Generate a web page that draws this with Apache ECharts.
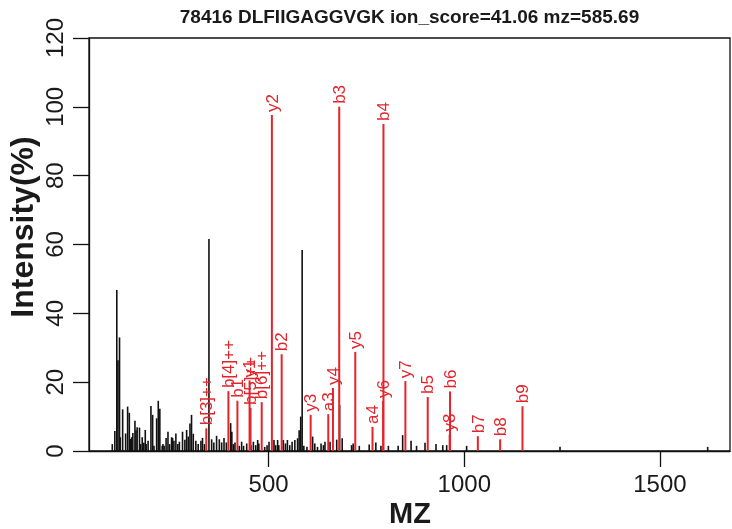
<!DOCTYPE html>
<html>
<head>
<meta charset="utf-8">
<script src="https://cdn.jsdelivr.net/npm/echarts@6/dist/echarts.min.js"></script>
<style>
html,body{margin:0;padding:0;background:#fff;}
#chart{width:732px;height:529px;}
</style>
</head>
<body>
<div id="chart"></div>
<script>
// ---- data ----
const titleText = '78416 DLFIIGAGGVGK ion_score=41.06 mz=585.69';
const xTicks = [500, 1000, 1500];
const yTicks = [0, 20, 40, 60, 80, 100, 120];

// unannotated peaks
const peakMz = [100.5,107,112,115,119,121,127,134.6,139.7,144,147,150,153,158.4,161,164,170,173,177,181,184.8,187,192,199.3,203.6,207,213.8,218,222,228,230,233,238,242.8,247,252,254.7,258,263,268,272,280,286,290.5,294.7,299,303,307.5,314,320,327,331,336,347.5,354.4,360,367,374,380,386,392,403,406,410,414,425,431,436,444,455,461,467,472,475,490,496,501,513.7,518,523,526,537.6,543,548,554,560,567,574,578,582,585.7,590,598,612.5,618,625,634,640,644,657,674,681.4,688,712,716,731.7,757,774,787,806,831,842.5,864,878,899.6,927.7,945,955,1006,1244.6,1622];
const peakInt = [2.0,5.8,46.8,26.4,33.0,4.0,12.1,5.1,12.9,11.1,3.5,4.0,5.2,8.8,6.0,6.9,6.8,2.0,4.0,2.4,6.1,2.0,3.0,13.1,10.5,1.5,9.5,14.6,12.3,1.5,2.0,1.5,3.8,5.6,2.0,4.0,3.8,3.0,5.1,2.0,2.7,5.6,3.3,6.1,4.2,8.0,10.5,5.0,3.0,2.0,3.0,3.8,2.0,61.6,3.4,2.5,4.4,3.4,2.5,3.8,2.5,8.1,5.6,2.0,2.5,1.5,2.7,1.5,2.2,1.7,2.7,1.7,3.2,2.2,1.2,1.7,2.7,3.2,1.7,3.2,1.7,3.2,2.2,3.2,1.7,2.7,3.2,3.7,6.0,10.0,58.4,1.5,1.2,4.2,2.2,1.2,2.2,1.7,2.7,2.7,3.3,13.4,3.7,1.7,2.2,1.5,1.9,2.5,1.5,1.5,1.5,4.6,3.0,1.5,2.4,2.0,1.7,1.7,1.5,1.2,1.2];

// annotated fragment ions
const ionLabel = ['b[3]++','b[4]++','b1','y1','b[5]++','b[6]++','y2','b2','y3','a3','y4','b3','y5','a4','y6','b4','y7','b5','y8','b6','b7','b8','b9'];
const ionMz = [340.70,397.24,420.24,451.32,453.78,482.29,508.34,533.32,607.41,652.40,664.43,680.39,721.45,765.48,792.49,793.48,849.51,906.56,962.59,963.58,1034.62,1091.64,1148.66];
const ionInt = [6.6,17.4,14.6,20.5,12.5,14.2,97.6,28.1,10.5,10.7,18.3,100,28.8,7.0,14.5,95,20.3,15.7,4.8,17.3,4.3,3.4,13.0];

// ---- chart ----
const RED = '#e3242b';
const FONT = '"Liberation Sans", Arial, Helvetica, sans-serif';
const chart = echarts.init(document.getElementById('chart'), null, {renderer: 'canvas'});

const peakData = peakMz.map((m, i) => [m, peakInt[i]]);
const ionData = ionMz.map((m, i) => [m, ionInt[i], ionLabel[i]]);

function stickRender(color, width, withLabel) {
  return function (params, api) {
    const x = api.value(0), y = api.value(1);
    const p0 = api.coord([x, 0]);
    const p1 = api.coord([x, y]);
    const children = [{
      type: 'line',
      shape: {x1: p0[0], y1: p0[1], x2: p1[0], y2: p1[1]},
      style: {stroke: color, lineWidth: width}
    }];
    if (withLabel) {
      children.push({
        type: 'text',
        x: p1[0] + 1,
        y: p1[1] - 3,
        rotation: Math.PI / 2,
        style: {
          text: ionData[params.dataIndex][2],
          fill: color,
          font: '17px ' + FONT,
          align: 'left',
          verticalAlign: 'middle'
        }
      });
    }
    return {type: 'group', children: children};
  };
}

const option = {
  animation: false,
  backgroundColor: '#fff',
  grid: {left: 89, right: 2, top: 38, bottom: 78, show: true, borderColor: '#111', borderWidth: 1.3, backgroundColor: 'transparent'},
  xAxis: {
    type: 'value', min: 41, max: 1679,
    axisLine: {show: true, onZero: false, lineStyle: {color: '#111', width: 1.3}},
    axisTick: {show: true, inside: false, length: 16, customValues: xTicks, lineStyle: {color: '#111', width: 1.3}},
    axisLabel: {customValues: xTicks, formatter: v => String(v), color: '#1a1a1a', fontSize: 24, fontFamily: FONT, margin: 22},
    splitLine: {show: false}
  },
  yAxis: {
    type: 'value', min: 0, max: 120, interval: 20,
    axisLine: {show: true, onZero: false, lineStyle: {color: '#111', width: 1.3}},
    axisTick: {show: true, inside: false, length: 16, lineStyle: {color: '#111', width: 1.3}},
    axisLabel: {rotate: 90, formatter: v => String(v), color: '#1a1a1a', fontSize: 24, fontFamily: FONT, margin: 21, showMinLabel: true, showMaxLabel: true},
    splitLine: {show: false}
  },
  graphic: [
    {type: 'text', x: 409.5, y: 18, style: {text: titleText, font: 'bold 19px ' + FONT, fill: '#1a1a1a', align: 'center', verticalAlign: 'middle'}},
    {type: 'text', x: 24, y: 227, rotation: Math.PI / 2, style: {text: 'Intensity(%)', font: 'bold 32px ' + FONT, fill: '#1a1a1a', align: 'center', verticalAlign: 'middle'}},
    {type: 'text', x: 410, y: 515, style: {text: 'MZ', font: 'bold 29px ' + FONT, fill: '#1a1a1a', align: 'center', verticalAlign: 'middle'}}
  ],
  series: [
    {type: 'custom', name: 'peaks', data: peakData, renderItem: stickRender('#111', 1.6, false), clip: false},
    {type: 'custom', name: 'ions', data: ionData, renderItem: stickRender(RED, 2, true), clip: false}
  ]
};
chart.setOption(option);
</script>
</body>
</html>
